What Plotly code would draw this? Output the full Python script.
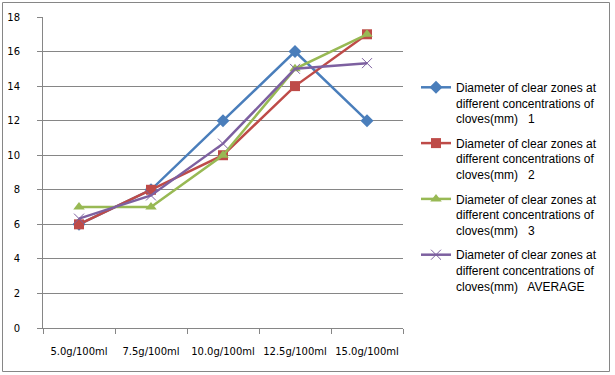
import plotly.graph_objects as go

categories = ["5.0g/100ml", "7.5g/100ml", "10.0g/100ml", "12.5g/100ml", "15.0g/100ml"]
series_names = [
    "Diameter of clear zones at<br>different concentrations of<br>cloves(mm)   1",
    "Diameter of clear zones at<br>different concentrations of<br>cloves(mm)   2",
    "Diameter of clear zones at<br>different concentrations of<br>cloves(mm)   3",
    "Diameter of clear zones at<br>different concentrations of<br>cloves(mm)   AVERAGE",
]
s1 = [6, 8, 12, 16, 12]
s2 = [6, 8, 10, 14, 17]
s3 = [7, 7, 10, 15, 17]
avg = [6.33, 7.67, 10.67, 15, 15.33]
y_ticks = [0, 2, 4, 6, 8, 10, 12, 14, 16, 18]

colors = ["#4A7EBB", "#BE4B48", "#98B954", "#7D60A0"]
symbols = ["diamond", "square", "triangle-up", "x-thin"]
sizes = [10, 10, 10, 10]

fig = go.Figure()
for i, (name, vals) in enumerate(zip(series_names, [s1, s2, s3, avg])):
    marker = dict(symbol=symbols[i], size=sizes[i], color=colors[i])
    if symbols[i] == "x-thin":
        marker["line"] = dict(color=colors[i], width=1)
    fig.add_trace(go.Scatter(
        x=categories, y=vals, name=name, mode="lines+markers",
        line=dict(color=colors[i], width=2.5),
        marker=marker, legendgroup=f"g{i}",
    ))

W, H = 615, 375
L, R, T, B = 43, 212, 17, 47
pw, ph = W - L - R, H - T - B

def px_x(x):
    return (x - L) / pw

def px_y(y):
    return (H - B - y) / ph

fig.update_layout(
    width=W, height=H,
    margin=dict(l=L, r=R, t=T, b=B, autoexpand=False),
    paper_bgcolor="white", plot_bgcolor="white",
    font=dict(family="DejaVu Sans", size=10, color="black"),
    showlegend=True,
    legend=dict(
        x=px_x(416), y=px_y(73), xanchor="left", yanchor="top",
        font=dict(family="Liberation Sans", size=12, color="black"),
        traceorder="grouped", tracegroupgap=6, valign="top",
        bgcolor="rgba(0,0,0,0)", itemwidth=30,
    ),
    xaxis=dict(
        type="category", range=[-0.5, 4.5], automargin=False, tickangle=0,
        tickson="boundaries", ticks="outside", ticklen=5, tickcolor="#868686",
        showline=True, linecolor="#868686", linewidth=1,
        showgrid=False, ticklabelstandoff=14,
        tickfont=dict(family="DejaVu Sans", size=10),
    ),
    yaxis=dict(
        range=[0, 18], tickvals=y_ticks, ticks="outside", ticklen=5, automargin=False,
        tickcolor="#868686", showline=True, linecolor="#868686", linewidth=1,
        showgrid=True, gridcolor="#868686", gridwidth=1, zeroline=False,
        ticklabelstandoff=15, tickfont=dict(family="DejaVu Sans", size=10),
    ),
    shapes=[dict(
        type="rect", xref="paper", yref="paper",
        x0=px_x(2.5), x1=px_x(609.5), y0=px_y(371.5), y1=px_y(2.5),
        line=dict(color="#868686", width=1), fillcolor="rgba(0,0,0,0)",
    )],
)

fig.write_html(
    "out.html",
    config={"displayModeBar": False},
    post_script="document.body.style.margin='0';document.body.style.overflow='hidden';",
)
